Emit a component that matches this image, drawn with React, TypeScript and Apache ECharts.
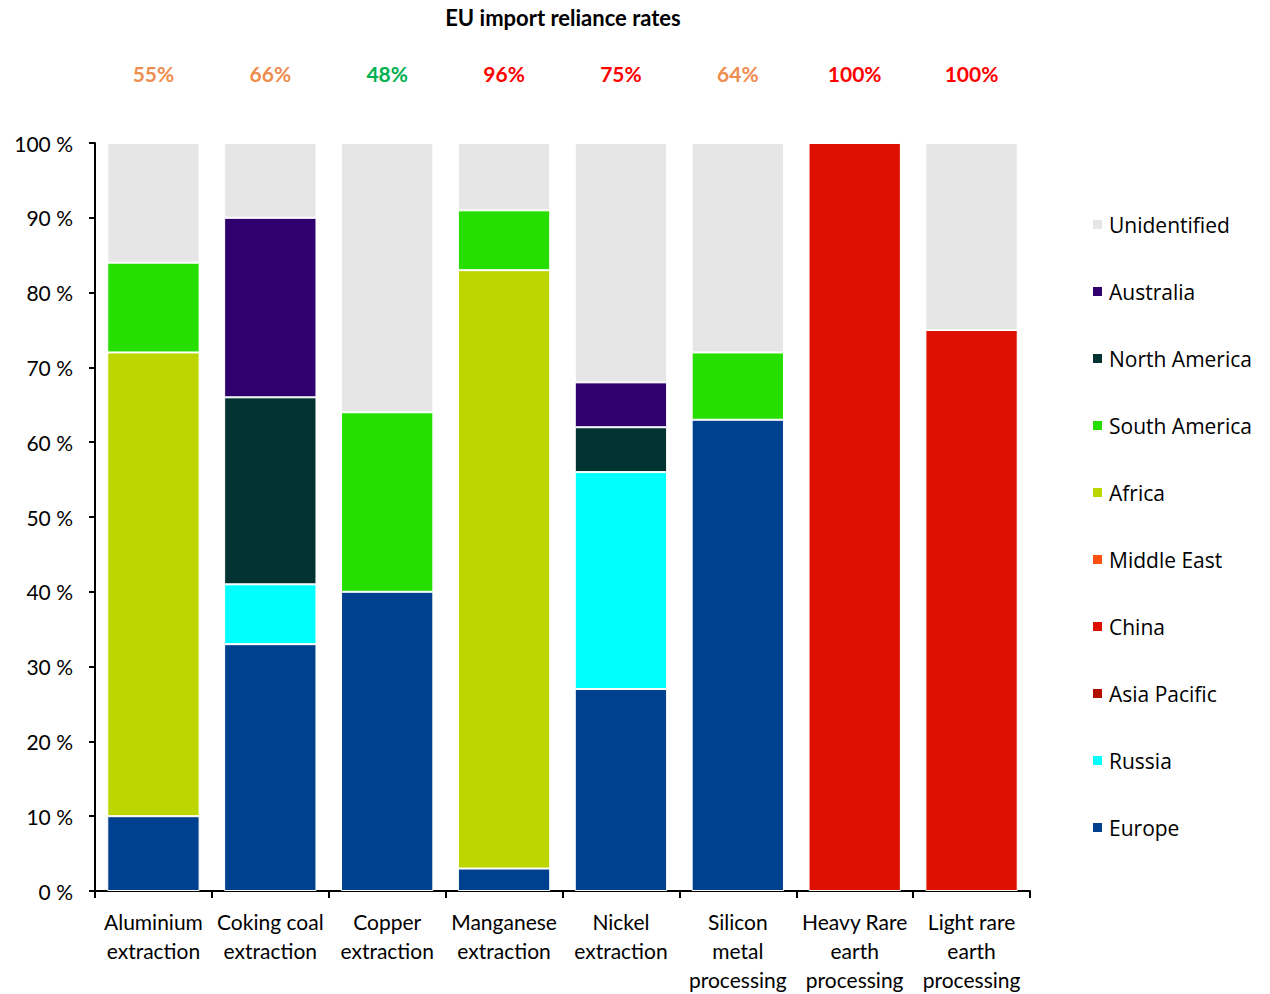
import React, { useEffect, useRef } from "react";
import * as echarts from "echarts";

const categories = [
  "Aluminium\nextraction",
  "Coking coal\nextraction",
  "Copper\nextraction",
  "Manganese\nextraction",
  "Nickel\nextraction",
  "Silicon\nmetal\nprocessing",
  "Heavy Rare\nearth\nprocessing",
  "Light rare\nearth\nprocessing",
];
const relianceRates = ["55%", "66%", "48%", "96%", "75%", "64%", "100%", "100%"];
const relianceLevel = ["o", "o", "g", "r", "r", "o", "r", "r"];

const europe = [10, 33, 40, 3, 27, 63, null, null];
const russia = [null, 8, null, null, 29, null, null, null];
const asiaPacific = [null, null, null, null, null, null, null, null];
const china = [null, null, null, null, null, null, 100, 75];
const middleEast = [null, null, null, null, null, null, null, null];
const africa = [62, null, null, 80, null, null, null, null];
const southAmerica = [12, null, 24, 8, null, 9, null, null];
const northAmerica = [null, 25, null, null, 6, null, null, null];
const australia = [null, 24, null, null, 6, null, null, null];
const unidentified = [16, 10, 36, 9, 32, 28, null, 25];

const seriesDefs = [
  { name: "Europe", data: europe, color: "#00418F" },
  { name: "Russia", data: russia, color: "#00FFFF" },
  { name: "Asia Pacific", data: asiaPacific, color: "#B20F00" },
  { name: "China", data: china, color: "#DE1000" },
  { name: "Middle East", data: middleEast, color: "#FF5011" },
  { name: "Africa", data: africa, color: "#BDD600" },
  { name: "South America", data: southAmerica, color: "#26DF00" },
  { name: "North America", data: northAmerica, color: "#023333" },
  { name: "Australia", data: australia, color: "#31006F" },
  { name: "Unidentified", data: unidentified, color: "#E6E6E6" },
];

const FONT = "Lato, 'Open Sans', sans-serif";

export default function App() {
  const ref = useRef<HTMLDivElement>(null);
  useEffect(() => {
    if (!ref.current) return;
    const chart = echarts.init(ref.current, undefined, { renderer: "svg" });
    chart.setOption({
      animation: false,
      backgroundColor: "#ffffff",
      title: {
        text: "EU import reliance rates",
        left: 558,
        top: 1,
        textAlign: "center",
        textStyle: { fontFamily: FONT, fontWeight: "bold", fontSize: 22, color: "#000" },
      },
      legend: {
        orient: "vertical",
        left: 1086,
        top: 209,
        icon: "rect",
        itemWidth: 11,
        itemHeight: 11,
        itemGap: 46,
        data: seriesDefs.map((s) => s.name).reverse(),
        textStyle: { fontFamily: "'Open Sans', sans-serif", fontSize: 21, color: "#000", padding: [0, 0, 0, 1] },
      },
      grid: { left: 95, right: 240, top: 143, bottom: 103 },
      xAxis: [
        {
          type: "category",
          data: categories,
          axisLine: { lineStyle: { color: "#000", width: 2 } },
          axisTick: { show: true, length: 7, lineStyle: { color: "#000", width: 2 } },
          axisLabel: {
            interval: 0,
            fontFamily: FONT,
            fontSize: 21,
            color: "#000",
            lineHeight: 29,
            margin: 16,
          },
        },
        {
          type: "category",
          position: "top",
          data: relianceRates,
          offset: 51,
          axisLine: { show: false },
          axisTick: { show: false },
          axisLabel: {
            interval: 0,
            formatter: (v: string, i: number) => `{${relianceLevel[i]}|${v}}`,
            rich: {
              o: { color: "#EE8D4E", fontWeight: "bold", fontSize: 21, fontFamily: FONT },
              g: { color: "#00B050", fontWeight: "bold", fontSize: 21, fontFamily: FONT },
              r: { color: "#FF0000", fontWeight: "bold", fontSize: 21, fontFamily: FONT },
            },
          },
        },
      ],
      yAxis: {
        type: "value",
        min: 0,
        max: 100,
        interval: 10,
        splitLine: { show: false },
        axisLine: { show: true, lineStyle: { color: "#000", width: 2 } },
        axisTick: { show: true, length: 6, lineStyle: { color: "#000", width: 2 } },
        axisLabel: {
          formatter: "{value} %",
          fontFamily: FONT,
          fontSize: 21,
          color: "#000",
          margin: 22,
        },
      },
      series: seriesDefs.map((s) => ({
        name: s.name,
        type: "bar",
        stack: "total",
        barCategoryGap: "21%",
        data: s.data,
        itemStyle: { color: s.color, borderColor: "#ffffff", borderWidth: 1 },
      })),
    });
    return () => chart.dispose();
  }, []);
  return (
    <div
      ref={ref}
      style={{ position: "absolute", left: 0, top: 0, width: 1270, height: 994 }}
    />
  );
}
